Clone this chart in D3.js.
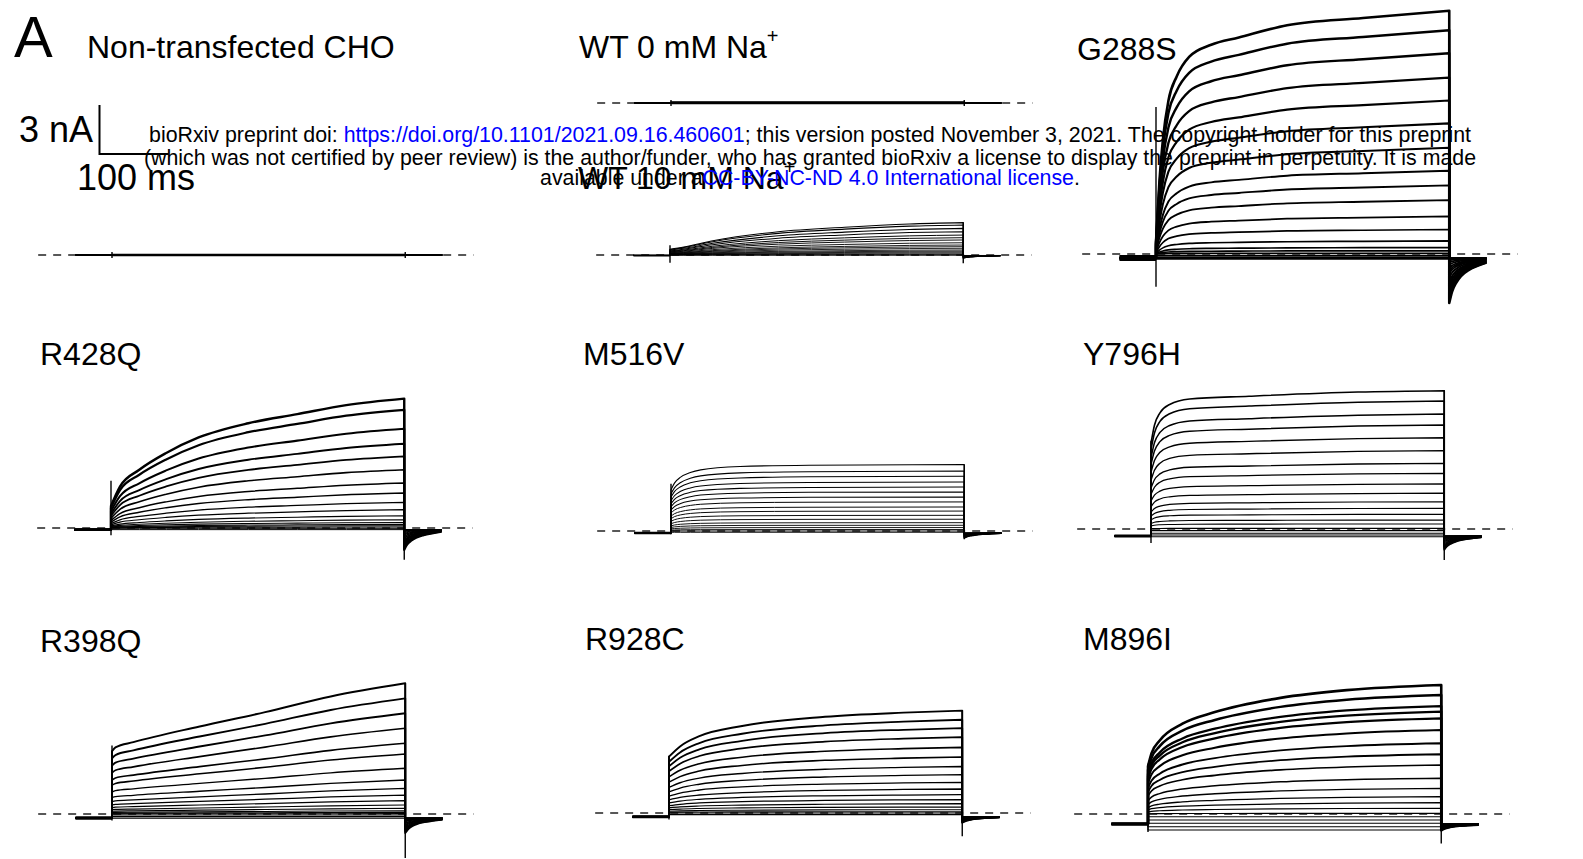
<!DOCTYPE html>
<html>
<head>
<meta charset="utf-8">
<script src="https://cdn.jsdelivr.net/npm/d3@7"></script>
<style>
  body { margin: 0; background: #fff; }
  svg { display: block; font-family: 'Liberation Sans', Arial, sans-serif; }
</style>
</head>
<body>
<div id="chart"></div>
<script>
// protocol timing (ms)
const preMs = 53;
const stepMs = 425;
const tailMs = 54;

const panels = ['Non-transfected CHO', 'WT 0 mM Na', 'WT 10 mM Na', 'G288S', 'R428Q', 'M516V', 'Y796H', 'R398Q', 'R928C', 'M896I'];
const superscripts = ['', '+', '+', '', '', '', '', '', '', ''];

// current at the end of each voltage step (nA), one value per trace
const endCurrents = [
  [0.02, 0, -0.02],
  [0.04, 0.02, 0, -0.02],
  [1.98, 1.84, 1.63, 1.43, 1.22, 1.06, 0.92, 0.75, 0.61, 0.51, 0.41, 0.31, 0.24, 0.18, 0.12, 0.06, 0.02, -0.02],
  [14.9, 13.7, 12.3, 10.8, 9.4, 8.0, 6.5, 5.1, 4.2, 3.3, 2.3, 1.5, 0.8, 0.4, 0.2, 0.05, -0.1, -0.2, -0.3],
  [7.92, 7.24, 6.08, 5.16, 4.39, 3.57, 2.76, 2.14, 1.57, 1.12, 0.75, 0.51, 0.34, 0.22, 0.14, 0.06, -0.02, -0.1],
  [4.07, 3.67, 3.35, 3.0, 2.69, 2.39, 2.08, 1.78, 1.47, 1.22, 0.96, 0.72, 0.51, 0.35, 0.21, 0.09, 0, -0.08],
  [8.47, 7.84, 7.04, 6.37, 5.59, 4.80, 4.02, 3.41, 2.76, 2.19, 1.67, 1.27, 0.90, 0.55, 0.31, 0.04, -0.10, -0.26, -0.37, -0.47],
  [8.0, 7.08, 6.17, 5.25, 4.33, 3.67, 2.80, 2.08, 1.57, 1.16, 0.82, 0.55, 0.35, 0.2, 0.1, 0.02, -0.06, -0.15, -0.25],
  [6.27, 5.71, 5.2, 4.65, 4.02, 3.43, 2.85, 2.35, 1.88, 1.47, 1.12, 0.82, 0.57, 0.37, 0.2, 0.08, 0, -0.1],
  [7.9, 7.29, 6.61, 6.27, 5.86, 5.14, 4.33, 3.66, 3.0, 2.19, 1.57, 1.06, 0.69, 0.35, 0.04, -0.17, -0.37, -0.57, -0.78, -0.98]
];

// time course during the step: [ms, fraction of end current]
const activation = [
  [[0, 1], [425, 1]],
  [[0, 1], [425, 1]],
  [[0, 0.18], [20, 0.25], [62, 0.44], [157, 0.72], [253, 0.86], [347, 0.96], [425, 1]],
  [[0, 0.05], [5, 0.3], [10, 0.47], [18, 0.63], [30, 0.73], [48, 0.81], [80, 0.86], [120, 0.89], [190, 0.94], [300, 0.97], [425, 1]],
  [[0, 0.17], [13, 0.32], [41, 0.45], [80, 0.58], [127, 0.7], [199, 0.81], [270, 0.88], [341, 0.95], [425, 1]],
  [[0, 0.62], [5, 0.72], [14, 0.81], [28, 0.88], [43, 0.92], [100, 0.97], [200, 0.99], [425, 1]],
  [[0, 0.62], [5, 0.75], [13, 0.84], [27, 0.9], [56, 0.94], [142, 0.96], [300, 0.99], [425, 1]],
  [[0, 0.48], [5, 0.51], [31, 0.55], [127, 0.67], [222, 0.78], [317, 0.9], [425, 1]],
  [[0, 0.55], [16, 0.65], [44, 0.75], [106, 0.85], [226, 0.94], [340, 0.98], [425, 1]],
  [[0, 0.37], [5, 0.47], [17, 0.57], [50, 0.7], [97, 0.79], [192, 0.9], [288, 0.96], [425, 1]]
];

// holding current and deepest tail current (nA)
const holdingCurrents = [0, 0, -0.03, -0.25, -0.1, -0.12, -0.43, -0.25, -0.23, -0.61];
const tailPeaks = [0, 0, -0.2, -3.0, -1.33, -0.45, -1.29, -1.16, -0.6, -1.0];

// tail relaxation: [ms after step, fraction of tail peak]
const tailDecay = [[0, 1], [4, 0.75], [10, 0.55], [17, 0.4], [28, 0.27], [40, 0.18], [54, 0.1]];

// capacitive artefacts at step on / off: [top, bottom] in nA
const onsetArtifacts = [[0.18, -0.18], [0.18, -0.18], [0.6, -0.47], [9.0, -2.0], [2.9, -0.45], [2.9, -0.2], [5.4, -0.85], [4.2, -0.4], [3.5, -0.4], [3.1, -1.1]];
const offsetArtifacts = [[0.18, -0.18], [0.18, -0.18], [2.0, -0.5], [14.9, -3.0], [7.9, -1.94], [4.07, -0.5], [8.5, -1.9], [8.0, -2.7], [6.27, -1.43], [7.9, -1.8]];

// scale bar
const scaleBarNA = 3;
const scaleBarMs = 100;

// ---- layout ----
const width = 1583;
const height = 859;
const pxPerMs = 0.69;
const pxPerNA = 16.33;
const origins = [[112, 255], [671, 103], [670, 255], [1156, 254], [111, 528], [671, 531], [1151, 529], [112, 814], [669, 813], [1148, 814]];
const titlePos = [[87, 58], [579, 58], [578, 189], [1077, 60], [40, 365], [583, 365], [1083, 365], [40, 652], [585, 650], [1083, 650]];
// stroke width of the smallest / largest trace (noisy big traces look heavier)
const traceWidth = [[2, 2], [2, 2], [0.8, 1.1], [1.6, 2.6], [1, 2.4], [0.9, 1.1], [1.1, 1.6], [1.1, 2], [1.1, 1.9], [1.1, 2.6]];
const holdWidth = [2, 2, 2, 6, 2.5, 2.5, 3, 3.5, 3, 3];

const svg = d3.select('#chart').append('svg')
  .attr('width', width)
  .attr('height', height);

const stepLine = d3.line().curve(d3.curveMonotoneX);

panels.forEach((name, p) => {
  const [sx, by] = origins[p];
  const x = d3.scaleLinear().domain([0, stepMs]).range([sx, sx + stepMs * pxPerMs]);
  const y = d3.scaleLinear().domain([0, 1]).range([by, by - pxPerNA]);
  const g = svg.append('g');
  const hold = holdingCurrents[p];
  const finals = endCurrents[p];
  const fmax = d3.max(finals);
  const w = d3.scaleLinear().domain([0, Math.max(fmax, 0.01)]).range(traceWidth[p]).clamp(true);

  // zero-current dashed line
  g.append('line')
    .attr('x1', x(-preMs - 54)).attr('x2', x(stepMs + tailMs + 45))
    .attr('y1', y(0)).attr('y2', y(0))
    .attr('stroke', '#222').attr('stroke-width', 1.3)
    .attr('stroke-dasharray', '8,7');

  // holding segment
  g.append('line')
    .attr('x1', x(-preMs)).attr('x2', x(0))
    .attr('y1', y(hold)).attr('y2', y(hold))
    .attr('stroke', '#000').attr('stroke-width', holdWidth[p]);

  const traces = finals.map(f => {
    const act = activation[p].map(([t, a]) => [x(t), y(f > 0 ? f * a : f)]);
    const gain = fmax > 0 ? Math.max(0, f) / fmax : 0;
    const tail = tailDecay.map(([t, d]) => [x(stepMs + t), y(hold + (tailPeaks[p] - hold) * gain * d)]);
    return {
      f,
      d: 'M' + x(-preMs) + ',' + y(hold) + 'L' + x(0) + ',' + y(hold)
        + stepLine(act).replace(/^M/, 'L')
        + stepLine(tail).replace(/^M/, 'L')
    };
  });

  g.selectAll('path.trace')
    .data(traces)
    .enter().append('path')
      .attr('class', 'trace')
      .attr('d', d => d.d)
      .attr('fill', 'none')
      .attr('stroke', '#000')
      .attr('stroke-width', d => w(d.f))
      .attr('stroke-linejoin', 'round');

  // artefacts
  [[0, onsetArtifacts[p]], [stepMs, offsetArtifacts[p]]].forEach(([t, a]) => {
    g.append('line')
      .attr('x1', x(t)).attr('x2', x(t))
      .attr('y1', y(a[0])).attr('y2', y(a[1]))
      .attr('stroke', '#000').attr('stroke-width', 1.4);
  });

  const title = svg.append('text')
    .attr('x', titlePos[p][0]).attr('y', titlePos[p][1])
    .attr('font-size', 32).attr('fill', '#000')
    .text(name);
  if (superscripts[p]) {
    title.append('tspan').attr('dy', -15).attr('font-size', 20).text(superscripts[p]);
  }
});

// panel letter
svg.append('text').attr('x', 14).attr('y', 57).attr('font-size', 58).text('A');

// scale bar
const sbX = d3.scaleLinear().domain([0, scaleBarMs]).range([99.5, 99.5 + scaleBarMs * pxPerMs]);
const sbY = d3.scaleLinear().domain([0, scaleBarNA]).range([154, 154 - scaleBarNA * pxPerNA]);
svg.append('path')
  .attr('d', `M${sbX(0)},${sbY(scaleBarNA)}L${sbX(0)},${sbY(0)}L${sbX(scaleBarMs)},${sbY(0)}`)
  .attr('fill', 'none').attr('stroke', '#000').attr('stroke-width', 2);
svg.append('text').attr('x', 19).attr('y', 142).attr('font-size', 36).text(scaleBarNA + ' nA');
svg.append('text').attr('x', 77).attr('y', 190).attr('font-size', 36).text(scaleBarMs + ' ms');

// bioRxiv watermark
const watermark = [
  { y: 142, w: 1322, parts: [['bioRxiv preprint doi: ', '#000'], ['https://doi.org/10.1101/2021.09.16.460601', '#0000ff'], ['; this version posted November 3, 2021. The copyright holder for this preprint', '#000']] },
  { y: 165, w: 1333, parts: [['(which was not certified by peer review) is the author/funder, who has granted bioRxiv a license to display the preprint in perpetuity. It is made', '#000']] },
  { y: 185, w: 540, parts: [['available under a', '#000'], ['CC-BY-NC-ND 4.0 International license', '#0000ff'], ['.', '#000']] }
];
watermark.forEach(line => {
  const t = svg.append('text')
    .attr('x', 810).attr('y', line.y)
    .attr('text-anchor', 'middle')
    .attr('font-size', 20);
  line.parts.forEach(([s, c]) => t.append('tspan').attr('fill', c).text(s));
  const len = t.node().getComputedTextLength();
  t.attr('font-size', 20 * line.w / len);
});
</script>
</body>
</html>
